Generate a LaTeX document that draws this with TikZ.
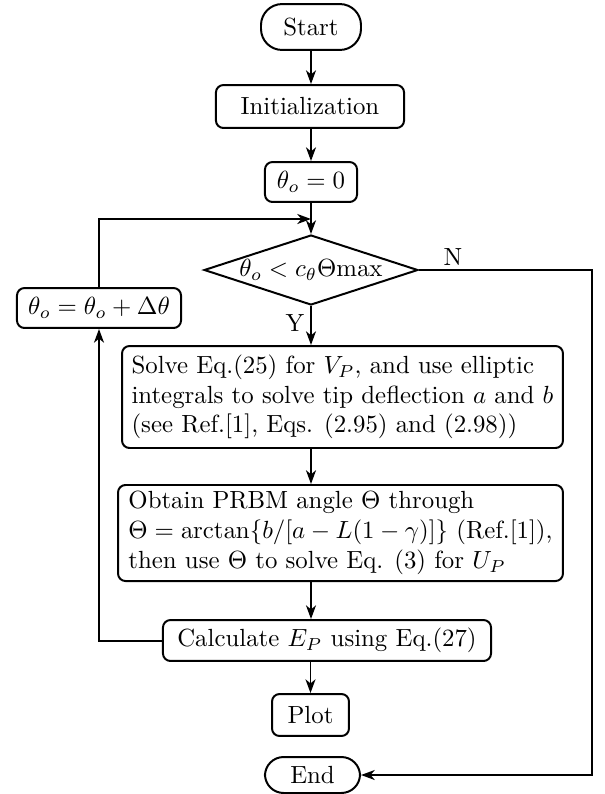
\documentclass[tikz,border=0pt]{standalone}
\usetikzlibrary{shapes.geometric,arrows.meta}
\begin{document}
\begin{tikzpicture}[x=0.403pt,y=-0.403pt,
  every path/.style={line width=0.8pt},
  box/.style={draw, rounded corners=3pt, inner sep=0pt, align=left},
  term/.style={draw, rounded corners=7.5pt, inner sep=0pt},
  dec/.style={draw, diamond, aspect=3.06, inner sep=0pt},
  arr/.style={-{Stealth[length=5.5pt,width=4pt,inset=1.6pt]}},
  lbl/.style={inner sep=0pt}]
\useasboundingbox (0,0) rectangle (605,794);
\node[term, minimum width=40.3pt, minimum height=18.5pt, rounded corners=8.5pt] (start) at (311,27) {Start};
\node[box, minimum width=75.8pt, minimum height=17.3pt, align=center] (init) at (310,106.5) {Initialization};
\node[box, minimum width=37.1pt, minimum height=16.1pt, align=center] (th0) at (311,182) {$\theta_o=0$};
\coordinate (j) at (311,219);
\node[dec, minimum width=86.2pt, minimum height=28.2pt] (cond) at (311,270) {$\theta_o<c_\theta\Theta\mathrm{max}$};
\node[box, minimum width=66.1pt, minimum height=16.1pt, align=center] (upd) at (99,308) {$\theta_o=\theta_o+\Delta\theta$};
\node[box, minimum width=177.7pt, minimum height=41.1pt] (solve) at (342.5,397) {Solve Eq.(25) for $V_P$, and use elliptic\\integrals to solve tip deflection $a$ and $b$\\(see Ref.[1], Eqs. (2.95) and (2.98))};
\node[box, minimum width=179.3pt, minimum height=38.7pt] (obtain) at (340.5,533) {Obtain PRBM angle $\Theta$ through\\$\Theta=\arctan\{b/[a-L(1-\gamma)]\}$ (Ref.[1]),\\then use $\Theta$ to solve Eq. (3) for $U_P$};
\node[box, minimum width=132.2pt, minimum height=16.5pt, align=center] (calc) at (327,640.5) {Calculate $E_P$ using Eq.(27)};
\node[box, minimum width=31pt, minimum height=16.9pt, align=center] (plot) at (310.5,715) {Plot};
\node[term, minimum width=38.3pt, minimum height=14.5pt] (end) at (312.5,775) {End};
\node[lbl] (ylbl) at (295,323) {Y};
\node[lbl] (nlbl) at (453,257) {N};
\coordinate (rc) at (592,270);
% connectors
\draw[arr] (start) -- (start |- init.north);
\draw[arr] (init.south -| th0) -- (th0);
\draw[arr] (th0) -- (cond);
\draw[arr] (upd) |- (j);
\draw[arr] (cond) -- (cond.south |- solve.north);
\draw[arr] (solve.south -| cond.south) -- (obtain.north -| cond.south);
\draw[arr] (obtain.south -| cond.south) -- (calc.north -| cond.south);
\draw[arr] (calc.south -| plot.north) -- (plot);
\draw[arr] (calc) -| (upd);
\draw[arr] (cond.east) -- (rc) |- (end);
\end{tikzpicture}
\end{document}
